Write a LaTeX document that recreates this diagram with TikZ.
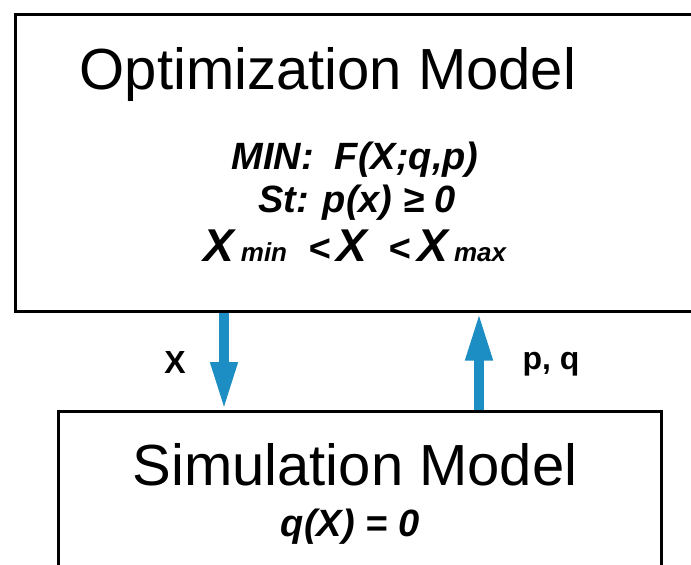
\documentclass[tikz,border=0pt]{standalone}
\usepackage{fontspec}
\setmainfont{Liberation Sans}
\usetikzlibrary{arrows.meta}
\definecolor{flowblue}{RGB}{28,142,196}
\tikzset{
  modelbox/.style={draw, line width=2.5pt, anchor=north west, inner sep=0pt},
  heading/.style={font=\fontsize{58}{60}\selectfont},
  formula/.style={font=\fontsize{38}{40}\selectfont\bfseries\itshape},
  flow/.style={flowblue, line width=10pt, -{Triangle[width=25pt,length=48pt]}},
  flowlabel/.style={font=\fontsize{32}{34}\selectfont\bfseries}
}
\newcommand{\bigX}{{\fontsize{46}{46}\selectfont X}}
\newcommand{\subtxt}[1]{{\fontsize{26}{26}\selectfont #1}}
\begin{document}
\begin{tikzpicture}[x=1pt, y=-1pt]
  \useasboundingbox (0,0) rectangle (691,565);
  \clip (0,0) rectangle (691,565);

  % Optimization model (runs off the right edge)
  \node[modelbox, minimum width=700pt, minimum height=297pt] (optbox) at (14,13) {};
  \node[heading] (opttitle) at (328,75) {Optimization Model};
  \node[formula] (objective) at (355,160) {MIN:\ \ F(X;q,p)};
  \node[formula] (constraint) at (357,203) {St: p(x) ≥ 0};
  \node[formula] (bounds) at (355,246) {\bigX\,\subtxt{min}\ \ <\,\bigX\ \ <\,\bigX\,\subtxt{max}};

  % Simulation model (runs off the bottom edge)
  \node[modelbox, minimum width=603pt, minimum height=200pt] (simbox) at (57,410) {};
  \node[heading] (simtitle) at (355,465) {Simulation Model};
  \node[formula] (simeq) at (350,527) {q(X) = 0};

  % Exchange between the models
  \coordinate (xdown) at (224,0);
  \coordinate (pqup) at (479,0);
  \draw[flow] (xdown |- optbox.south) -- (xdown |- simbox.north);
  \draw[flow] (pqup |- simbox.north) -- (pqup |- optbox.south);
  \node[flowlabel] (xlabel) at (175,362) {X};
  \node[flowlabel] (pqlabel) at (551,364) {p, q};
\end{tikzpicture}
\end{document}
